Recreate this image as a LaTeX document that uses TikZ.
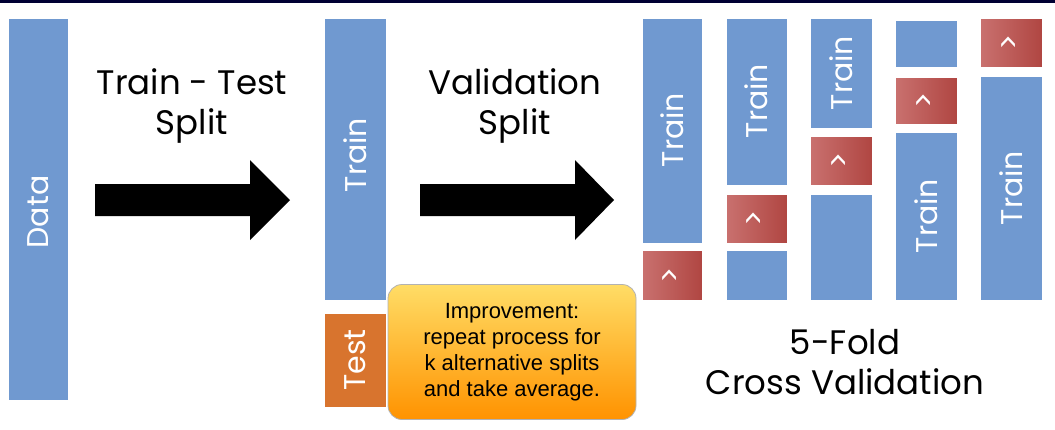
\documentclass[tikz,border=0pt]{standalone}
\usepackage{fontspec}
\setmainfont{Poppins}
\newfontfamily\arialf{Liberation Sans}
\begin{document}
\begin{tikzpicture}[x=1pt,y=-1pt,
  blk/.style={fill=blue!35!cyan!10!black!0,draw=none},
  tr/.style={draw=white,line width=0.6pt,fill=bl},
  vv/.style={draw=white,line width=0.6pt,left color=vl,right color=vr},
  lab/.style={text=white,font=\fontsize{30}{30}\selectfont,rotate=90},
  head/.style={font=\fontsize{34}{40}\selectfont,align=center,text=black},
  arr/.style={fill=black}]
\definecolor{bl}{HTML}{7099D0}
\definecolor{vl}{HTML}{C9716F}
\definecolor{vr}{HTML}{B04642}
\definecolor{tst}{HTML}{D8742E}
\useasboundingbox (0,0) rectangle (1055,429);
\fill[white] (0,0) rectangle (1055,429);
\fill[black!80!blue] (0,0) rectangle (1055,3);
% Data
\path[tr] (8,18) rectangle (68,400);
\node[lab] (data) at (38,212) {Data};
% arrows
\fill[arr] (95,184) -- (250,184) -- (250,160) -- (290,200) -- (250,240) -- (250,216) -- (95,216) -- cycle;
\fill[arr] (420,184) -- (575,184) -- (575,160) -- (614,200) -- (575,240) -- (575,216) -- (420,216) -- cycle;
\node[head] (tt) at (192,106) {Train - Test\\Split};
\node[head] (vs) at (515,106) {Validation\\Split};
% middle
\path[tr] (324,18) rectangle (386,300);
\node[lab] (mtr) at (355,155) {Train};
\path[draw=white,fill=tst] (324,313) rectangle (386,407);
\node[lab] (tst) at (355,360) {Test};
% callout
\node[draw=gray!60,line width=0.8pt,rounded corners=14pt,top color=yellow!55!orange!60,bottom color=orange!85!yellow,
  minimum width=248pt,minimum height=135pt,align=center,font=\arialf\fontsize{22}{26}\selectfont,inner sep=2pt] (imp) at (512,352)
  {Improvement:\\repeat process for\\k alternative splits\\and take average.};
% folds
\path[tr] (642,18) rectangle (702,243); \node[lab] (t1) at (672,130) {Train};
\path[vv] (642,250) rectangle (702,300); \node[lab] (v1) at (672,275) {>};
\path[tr] (726,18) rectangle (787,185); \node[lab] (t2) at (756,101) {Train};
\path[vv] (726,194) rectangle (787,243); \node[lab] (v2) at (756,218) {>};
\path[tr] (726,250) rectangle (787,300);
\path[tr] (810,18) rectangle (872,128); \node[lab] (t3) at (841,73) {Train};
\path[vv] (810,136) rectangle (872,185); \node[lab] (v3) at (841,160) {>};
\path[tr] (810,194) rectangle (872,300);
\path[tr] (895,20) rectangle (957,67);
\path[vv] (895,77) rectangle (957,124); \node[lab] (v4) at (926,100) {>};
\path[tr] (895,132) rectangle (957,300); \node[lab] (t4) at (926,216) {Train};
\path[vv] (980,18) rectangle (1042,67); \node[lab] (v5) at (1011,42) {>};
\path[tr] (980,76) rectangle (1042,300); \node[lab] (t5) at (1011,188) {Train};
\node[head] (cv) at (845,362) {5-Fold\\Cross Validation};
\end{tikzpicture}
\end{document}
